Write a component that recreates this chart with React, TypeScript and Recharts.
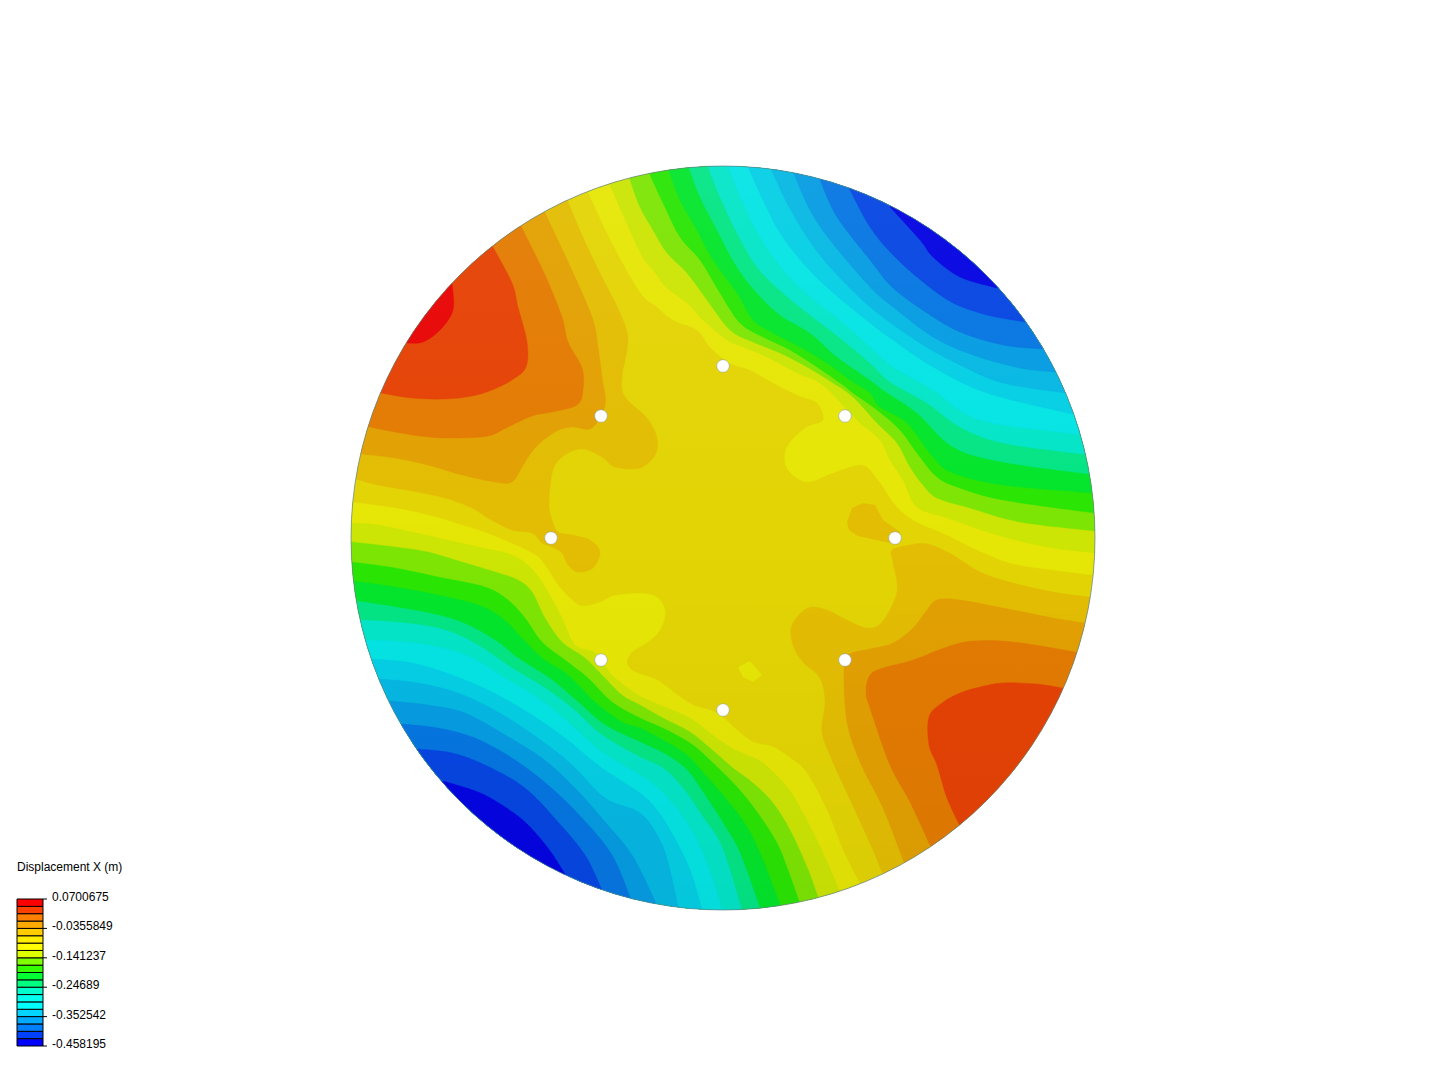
import React from 'react'
import { BarChart, Bar, ScatterChart, Scatter, XAxis, YAxis } from 'recharts'

type Pt = [number, number]

// Contours, in plot units. Each list runs rim to rim.
// Level numbers follow the colour scale: 1 is the top (red), 20 the bottom (blue).
const NE_CONTOURS: Pt[][] = [
  [[588,192],[612,243],[640,292],[657,307],[673,320],[697,330],[710,347],[730,363],[750,370],[773,383],[797,395],[817,403],[823,420],[807,427],[792,440],[785,453],[788,470],[807,482],[833,473],[862,465],[878,480],[897,507],[917,522],[947,535],[973,548],[1010,563],[1053,570],[1093,575]],
  [[610,185],[640,252],[653,270],[667,288],[687,303],[703,320],[727,340],[743,347],[767,357],[797,373],[820,383],[843,405],[860,423],[880,440],[890,460],[903,480],[917,507],[947,518],[997,535],[1047,547],[1095,553]],
  [[630,180],[640,207],[653,230],[667,253],[687,273],[707,300],[730,330],[753,342],[780,353],[807,367],[833,383],[853,397],[877,423],[897,443],[910,467],[923,485],[937,498],[970,508],[1020,522],[1095,531]],
  [[650,175],[663,203],[680,237],[700,260],[720,293],[740,323],[763,337],[790,350],[817,367],[843,385],[853,393],[877,410],[900,430],[917,453],[937,477],[960,488],[1003,500],[1094,513]],
  [[669,171],[680,200],[697,230],[713,260],[737,293],[753,320],[773,333],[800,347],[827,363],[850,380],[870,393],[880,407],[907,423],[933,457],[953,473],[1003,485],[1092,493]],
  [[689,168],[700,197],[717,230],[737,267],[757,293],[780,315],[810,333],[837,357],[870,380],[883,390],[917,413],[953,447],[1003,462],[1089,474]],
  [[708,167],[720,197],[737,233],[757,267],[783,293],[810,315],[840,338],[870,363],[890,382],[927,403],[960,427],[1003,443],[1083,454]],
  [[728,167],[743,203],[760,237],[783,270],[810,297],[840,320],[870,347],[893,367],[933,390],[980,420],[1077,434]],
  [[748,167],[763,200],[780,233],[803,263],[830,290],[870,323],[893,340],[933,367],[987,393],[1072,414]],
  [[771,169],[787,203],[807,237],[830,267],[870,307],[920,343],[960,365],[1003,383],[1065,393]],
  [[794,174],[810,210],[830,240],[870,287],[893,307],[933,337],[973,355],[1020,368],[1055,372]],
  [[820,180],[837,217],[870,260],[893,288],[927,313],[960,332],[1003,345],[1043,349]],
  [[849,188],[870,227],[893,255],[923,282],[953,303],[987,315],[1025,322]],
  [[890,207],[920,240],[933,257],[960,277],[997,288]],
]

const SW_CONTOURS: Pt[][] = [
  [[352,502],[395,508],[428,515],[462,525],[492,535],[532,553],[545,565],[558,585],[572,600],[582,606],[598,603],[618,595],[652,595],[665,610],[660,630],[648,642],[632,652],[627,663],[635,672],[657,680],[675,693],[693,705],[717,713],[737,730],[753,742],[773,747],[793,760],[807,773],[827,810],[843,850],[859,882]],
  [[351,523],[378,525],[412,532],[478,547],[512,555],[533,570],[548,592],[562,618],[575,645],[595,653],[612,675],[628,688],[640,696],[660,705],[690,718],[710,733],[730,747],[747,755],[763,763],[787,787],[803,813],[823,853],[839,890]],
  [[352,542],[395,547],[428,552],[462,562],[495,572],[518,580],[532,592],[545,618],[562,642],[585,658],[602,675],[622,695],[640,705],[663,718],[690,732],[710,748],[733,768],[753,783],[773,803],[790,830],[807,867],[818,897]],
  [[352,562],[395,568],[438,577],[485,587],[508,600],[525,618],[542,642],[565,660],[588,678],[612,702],[640,718],[667,730],[693,745],[713,763],[737,787],[757,812],[777,843],[788,870],[799,901]],
  [[353,581],[395,587],[438,595],[478,605],[502,618],[522,638],[542,658],[568,675],[595,702],[622,722],[640,728],[663,740],[687,755],[707,777],[727,800],[747,827],[763,860],[780,905]],
  [[357,601],[395,607],[438,615],[468,625],[498,642],[518,658],[552,680],[578,702],[605,725],[640,742],[667,755],[687,770],[703,792],[723,823],[740,853],[760,908]],
  [[362,620],[405,623],[445,630],[478,645],[512,668],[545,688],[572,708],[602,735],[640,757],[663,768],[683,788],[703,817],[722,847],[742,910]],
  [[367,640],[405,642],[442,648],[472,658],[505,678],[538,698],[568,722],[602,752],[640,775],[660,790],[680,813],[697,840],[712,877],[722,910]],
  [[372,659],[412,663],[452,675],[492,692],[532,715],[565,738],[602,768],[640,793],[657,810],[673,835],[690,870],[702,909]],
  [[380,679],[418,683],[458,693],[498,712],[538,738],[572,765],[605,798],[640,813],[660,840],[670,870],[678,907]],
  [[390,701],[428,705],[465,713],[505,735],[542,758],[575,788],[605,822],[632,855],[656,903]],
  [[402,724],[438,728],[475,738],[512,758],[548,785],[582,818],[612,855],[630,897]],
  [[418,749],[452,753],[485,765],[525,788],[558,822],[585,855],[602,890]],
  [[443,781],[478,792],[502,805],[525,822],[548,848],[565,874]],
]

const NW_CONTOURS: Pt[][] = [
  [[356,479],[378,485],[412,491],[445,498],[472,508],[488,518],[512,530],[532,533],[542,543],[552,547],[562,553],[568,565],[578,572],[593,568],[600,552],[590,540],[572,535],[558,532],[552,520],[549,503],[553,470],[565,455],[583,449],[602,457],[615,467],[640,468],[655,455],[657,438],[647,418],[625,397],[622,377],[628,340],[620,313],[602,277],[585,242],[568,202]],
  [[362,454],[395,458],[428,465],[462,475],[495,482],[512,482],[522,467],[535,448],[555,432],[572,427],[592,428],[605,405],[602,377],[598,347],[593,320],[575,277],[545,213]],
  [[370,427],[395,432],[428,437],[455,438],[488,436],[508,427],[532,416],[552,412],[577,405],[583,390],[582,368],[568,342],[562,317],[545,275],[522,228]],
  [[381,393],[412,398],[445,399],[472,396],[492,390],[512,380],[526,367],[527,342],[518,307],[512,283],[493,247]],
  [[407,343],[423,342],[440,330],[453,310],[452,283]],
]

const SE_CONTOURS: Pt[][] = [
  [[882,872],[870,843],[847,793],[832,760],[822,732],[825,702],[820,678],[803,662],[793,645],[792,625],[808,608],[827,610],[847,620],[867,628],[882,622],[897,592],[893,562],[892,550],[910,545],[928,544],[953,555],[980,572],[1013,583],[1053,592],[1089,597]],
  [[904,862],[883,808],[860,762],[847,722],[844,672],[848,655],[870,649],[893,643],[913,628],[927,610],[937,600],[960,600],[1003,608],[1053,618],[1084,623]],
  [[930,845],[910,802],[890,765],[870,708],[866,692],[870,675],[883,668],[913,660],[947,647],[973,641],[1013,642],[1075,652]],
  [[959,824],[947,798],[937,765],[929,745],[929,717],[942,703],[960,693],[980,687],[1003,683],[1037,684],[1062,688]],
]

const ISLAND_DARK: Pt[] = [[847,522],[852,508],[863,503],[875,505],[883,520],[900,532],[898,545],[885,542],[858,536],[849,530]]
const ISLAND_LIGHT: Pt[] = [[738,667],[750,661],[762,675],[753,682],[743,677]]

const NE_LEVELS = [7,8,9,10,11,12,13,14,15,16,17,18,19,20]
const SW_LEVELS = [7,8,9,10,11,12,13,14,15,16,17,18,19,20]
const NW_LEVELS = [5,4,3,2,1]
const SE_LEVELS = [5,4,3,2]

const HOLE_X = [723,601,845,551,895,601,845,723]
const HOLE_Y = [366,416,416,538,538,660,660,710]
const DISC_CENTRE = [{ x: 723, y: 538 }]

// colours on the plate, level 1 first
const PLATE_FILLS = ['#e80505','#e54205','#e37b02','#e2a002','#e3bd03','#e3d405','#e6e606','#cce504','#7de504','#2ae504','#04e52c','#04e585','#04e5c8','#05e4e4','#05cfe5','#06b8e3','#069ce2','#0676e2','#0646e2','#0404e2']
// colours on the scale, top to bottom
const LEGEND_FILLS = ['#ff0000','#ff4000','#ff8000','#ffaa00','#ffcc00','#ffee00','#ffff00','#dfff00','#80ff00','#33ff00','#00ff33','#00ff80','#00ffcc','#00ffee','#00ffff','#00d4ff','#00aaff','#0080ff','#0040ff','#0000ff']
const LEGEND_TICKS = [0, 4, 8, 12, 16, 20]
const LEGEND_LABELS = ['-0.458195', '-0.352542', '-0.24689', '-0.141237', '-0.0355849', '0.0700675']

const R = 372
const toData = (pts: Pt[]) => pts.map(([x, y]) => ({ x, y }))
// push a rim point outwards so the closed shape stays outside the disc until the clip
const pushOut = ([x, y]: Pt): Pt => [723 + (x - 723) * 1.5, 538 + (y - 538) * 1.5]
const bandData = (c: Pt[], corner: Pt) => toData([pushOut(c[0]), ...c, pushOut(c[c.length - 1]), corner])

function bandPath(points: { x: number; y: number }[]) {
  const c = points.slice(1, points.length - 2)
  let d = `M${points[0].x},${points[0].y}L${c[0].x},${c[0].y}`
  for (let i = 0; i < c.length - 1; i++) {
    const a = c[Math.max(i - 1, 0)]
    const b = c[i]
    const e = c[i + 1]
    const f = c[Math.min(i + 2, c.length - 1)]
    d += `C${b.x + (e.x - a.x) / 6},${b.y + (e.y - a.y) / 6} ${e.x - (f.x - b.x) / 6},${e.y - (f.y - b.y) / 6} ${e.x},${e.y}`
  }
  const tail = points.slice(points.length - 2)
  return `${d}L${tail[0].x},${tail[0].y}L${tail[1].x},${tail[1].y}Z`
}

function bandSeries(contours: Pt[][], levels: number[], corner: Pt, key: string) {
  return contours.map((c, i) => {
    const fill = PLATE_FILLS[levels[i] - 1]
    return (
      <Scatter
        key={`${key}${i}`}
        data={bandData(c, corner)}
        isAnimationActive={false}
        shape={() => <g />}
        line={(p: any) => <path d={bandPath(p.points)} fill={fill} stroke={fill} strokeWidth={0.4} clipPath="url(#disc)" />}
      />
    )
  })
}

function islandSeries(pts: Pt[], level: number, key: string) {
  const fill = PLATE_FILLS[level - 1]
  return (
    <Scatter
      key={key}
      data={toData(pts)}
      isAnimationActive={false}
      shape={() => <g />}
      line={(p: any) => <polygon points={p.points.map((q: any) => `${q.x},${q.y}`).join(' ')} fill={fill} />}
    />
  )
}

const legendRow = [Object.fromEntries(LEGEND_FILLS.map((_, i) => [`b${i}`, 1]))]

function LegendTick({ x, y, payload }: any) {
  const i = LEGEND_TICKS.indexOf(payload.value)
  return (
    <text x={x + 3} y={y + 2} fontSize={12} fill="#000" fontFamily="'Liberation Sans', Arial, sans-serif">
      {LEGEND_LABELS[i]}
    </text>
  )
}

export default function App() {
  return (
    <div style={{ position: 'absolute', left: 0, top: 0, width: 1440, height: 1080, background: '#fff' }}>
      <ScatterChart width={1440} height={1080} margin={{ top: 0, right: 0, bottom: 0, left: 0 }}>
        <defs>
          <clipPath id="disc">
            <circle cx={723} cy={538} r={R} />
          </clipPath>
          <linearGradient id="shade" x1="0" y1="0" x2="0" y2="1">
            <stop offset="0%" stopColor="#fff" stopOpacity={0.05} />
            <stop offset="50%" stopColor="#fff" stopOpacity={0} />
            <stop offset="50%" stopColor="#000" stopOpacity={0} />
            <stop offset="100%" stopColor="#000" stopOpacity={0.04} />
          </linearGradient>
        </defs>
        <XAxis type="number" dataKey="x" domain={[0, 1440]} allowDataOverflow hide />
        <YAxis type="number" dataKey="y" domain={[0, 1080]} allowDataOverflow reversed hide />
        <Scatter
          data={DISC_CENTRE}
          isAnimationActive={false}
          shape={(p: any) => <circle cx={p.cx} cy={p.cy} r={R} fill={PLATE_FILLS[5]} />}
        />
        {bandSeries(NE_CONTOURS, NE_LEVELS, [1300, 0], 'ne')}
        {bandSeries(SW_CONTOURS, SW_LEVELS, [100, 1080], 'sw')}
        {bandSeries(NW_CONTOURS, NW_LEVELS, [100, 0], 'nw')}
        {bandSeries(SE_CONTOURS, SE_LEVELS, [1340, 1080], 'se')}
        {islandSeries(ISLAND_DARK, 5, 'i1')}
        {islandSeries(ISLAND_LIGHT, 7, 'i2')}
        <Scatter
          data={DISC_CENTRE}
          isAnimationActive={false}
          shape={(p: any) => <circle cx={p.cx} cy={p.cy} r={R} fill="url(#shade)" stroke="#5f7f8f" strokeWidth={0.7} />}
        />
        <Scatter
          data={HOLE_X.map((x, i) => ({ x, y: HOLE_Y[i] }))}
          isAnimationActive={false}
          shape={(p: any) => <circle cx={p.cx} cy={p.cy} r={6.3} fill="#fff" stroke="#7f98a8" strokeWidth={0.5} />}
        />
      </ScatterChart>

      <div style={{ position: 'absolute', left: 17, top: 860, fontSize: 12, fontFamily: "'Liberation Sans', Arial, sans-serif", color: '#000', lineHeight: '14px' }}>
        Displacement X (m)
      </div>
      <div style={{ position: 'absolute', left: 0, top: 880 }}>
        <BarChart width={140} height={190} data={legendRow} margin={{ top: 19, right: 0, bottom: 24, left: 17 }} barCategoryGap={0}>
          <XAxis hide />
          <YAxis
            orientation="right"
            type="number"
            domain={[0, 20]}
            ticks={LEGEND_TICKS}
            width={97}
            axisLine={false}
            tickSize={4}
            tickLine={{ stroke: '#000' }}
            tick={<LegendTick />}
            interval={0}
          />
          {LEGEND_FILLS.map((_, i) => {
            const idx = LEGEND_FILLS.length - 1 - i
            return (
              <Bar key={idx} dataKey={`b${idx}`} stackId="scale" fill={LEGEND_FILLS[idx]} stroke="#000" strokeWidth={1} isAnimationActive={false} />
            )
          })}
        </BarChart>
      </div>
    </div>
  )
}
